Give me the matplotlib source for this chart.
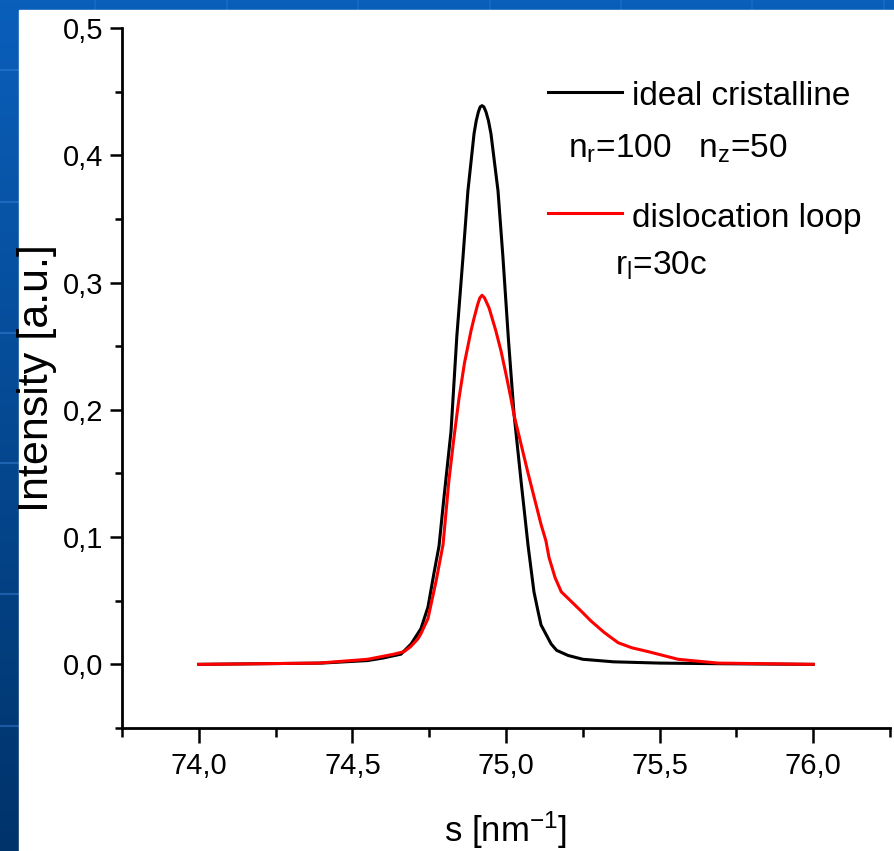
import numpy as np
import matplotlib
matplotlib.use("Agg")
import matplotlib.pyplot as plt
from matplotlib.colors import LinearSegmentedColormap
from matplotlib.patches import Rectangle
from matplotlib.lines import Line2D
from matplotlib.ticker import MultipleLocator, FuncFormatter

plt.rcParams['font.family'] = ['Liberation Sans', 'DejaVu Sans']
plt.rcParams['mathtext.default'] = 'regular'

# profile of the ideal crystal
s_ideal = [74.00, 74.20, 74.40, 74.55, 74.60, 74.658, 74.691, 74.723, 74.746, 74.765,
           74.782, 74.798, 74.821, 74.840, 74.860, 74.876, 74.896, 74.903, 74.910, 74.916,
           74.922, 74.928, 74.935, 74.943, 74.951, 74.974, 74.990, 75.008, 75.026, 75.049,
           75.072, 75.091, 75.104, 75.114, 75.147, 75.165, 75.202, 75.250, 75.350, 75.500,
           75.700, 76.00]
i_ideal = [0.000, 0.0005, 0.001, 0.003, 0.005, 0.008, 0.016, 0.028, 0.045, 0.071,
           0.093, 0.131, 0.183, 0.258, 0.320, 0.372, 0.417, 0.427, 0.434, 0.438,
           0.439, 0.438, 0.434, 0.427, 0.417, 0.372, 0.320, 0.255, 0.197, 0.144,
           0.093, 0.057, 0.042, 0.031, 0.016, 0.011, 0.007, 0.004, 0.002, 0.001,
           0.0005, 0.000]

# profile with dislocation loop
s_loop = [74.00, 74.20, 74.39, 74.55, 74.635, 74.668, 74.690, 74.713, 74.723, 74.746,
          74.772, 74.795, 74.814, 74.830, 74.847, 74.865, 74.876, 74.886, 74.896, 74.908,
          74.915, 74.922, 74.930, 74.945, 74.967, 74.984, 75.000, 75.016, 75.026, 75.050,
          75.072, 75.093, 75.114, 75.130, 75.140, 75.160, 75.180, 75.210, 75.244, 75.277,
          75.320, 75.365, 75.410, 75.463, 75.560, 75.690, 75.850, 76.00]
i_loop = [0.000, 0.0005, 0.001, 0.004, 0.008, 0.010, 0.014, 0.020, 0.024, 0.036,
          0.065, 0.094, 0.144, 0.177, 0.209, 0.237, 0.250, 0.262, 0.272, 0.283,
          0.288, 0.290, 0.288, 0.280, 0.262, 0.246, 0.228, 0.209, 0.196, 0.172,
          0.150, 0.130, 0.110, 0.097, 0.084, 0.068, 0.057, 0.050, 0.042, 0.034,
          0.025, 0.017, 0.013, 0.010, 0.004, 0.001, 0.0005, 0.000]

W, H = 895, 851
fig = plt.figure(figsize=(W / 100, H / 100), dpi=100)

# slide background
bg = fig.add_axes([0, 0, 1, 1], zorder=0)
cmap = LinearSegmentedColormap.from_list('slide', ['#0a5fbb', '#00336a'])
bg.imshow(np.linspace(0, 1, 256)[:, None], aspect='auto', cmap=cmap,
          extent=[0, 1, 0, 1], origin='upper')
for py in [70, 202, 333, 463, 594, 726]:
    bg.axhline(1 - py / H, color='#3a86dc', lw=1.5, alpha=0.45)
for px in [95, 227, 358, 490, 621, 752, 884]:
    bg.axvline(px / W, color='#3a86dc', lw=1.5, alpha=0.25)
bg.add_patch(Rectangle((19 / W, 0), 1, 1 - 10 / H, color='white', zorder=3))
bg.set_xlim(0, 1)
bg.set_ylim(0, 1)
bg.set_axis_off()

ax = fig.add_axes([122 / W, 1 - 728 / H, 768 / W, 700 / H], zorder=1)
ax.patch.set_alpha(0)

ax.plot(s_ideal, i_ideal, color='black', lw=2.2)
ax.plot(s_loop, i_loop, color='#ff0000', lw=2.2)

ax.set_xlim(73.75, 76.25)
ax.set_ylim(-0.05, 0.5)
ax.spines['top'].set_visible(False)
ax.spines['right'].set_visible(False)
for sp in ['left', 'bottom']:
    ax.spines[sp].set_linewidth(2)

comma = FuncFormatter(lambda v, p: ('%.1f' % v).replace('.', ','))
ax.xaxis.set_major_locator(MultipleLocator(0.5))
ax.xaxis.set_minor_locator(MultipleLocator(0.25))
ax.yaxis.set_major_locator(MultipleLocator(0.1))
ax.yaxis.set_minor_locator(MultipleLocator(0.05))
ax.xaxis.set_major_formatter(comma)
ax.yaxis.set_major_formatter(comma)
ax.tick_params(axis='x', which='major', direction='out', length=10.5, width=1.8,
               pad=7, labelsize=21)
ax.tick_params(axis='x', which='minor', direction='out', length=6.5, width=1.8)
ax.tick_params(axis='y', which='major', direction='out', length=8.5, width=1.8,
               pad=5, labelsize=21)
ax.tick_params(axis='y', which='minor', direction='out', length=5, width=1.8)

ax.set_xlabel('s [nm$^{-1}$]', fontsize=25)
ax.xaxis.set_label_coords(0.5, -0.117)
ax.set_ylabel('Intensity [a.u.]', fontsize=31)
ax.yaxis.set_label_coords(-0.085, 0.5)

# legend drawn by hand
ax.add_line(Line2D([0.5547, 0.6510], [0.9086, 0.9086], transform=ax.transAxes,
                   color='black', lw=2.2))
ax.text(0.6641, 0.890, 'ideal cristalline', transform=ax.transAxes,
        fontsize=24, va='baseline', ha='left')
ax.text(0.5807, 0.8143, 'n$_r$=100   n$_z$=50', transform=ax.transAxes,
        fontsize=24, va='baseline', ha='left')
ax.add_line(Line2D([0.5547, 0.6510], [0.7357, 0.7357], transform=ax.transAxes,
                   color='#ff0000', lw=2.2))
ax.text(0.6641, 0.7157, 'dislocation loop', transform=ax.transAxes,
        fontsize=24, va='baseline', ha='left')
ax.text(0.6419, 0.6471, 'r$_l$=30c', transform=ax.transAxes,
        fontsize=24, va='baseline', ha='left')

fig.savefig('out.png', dpi=100)
